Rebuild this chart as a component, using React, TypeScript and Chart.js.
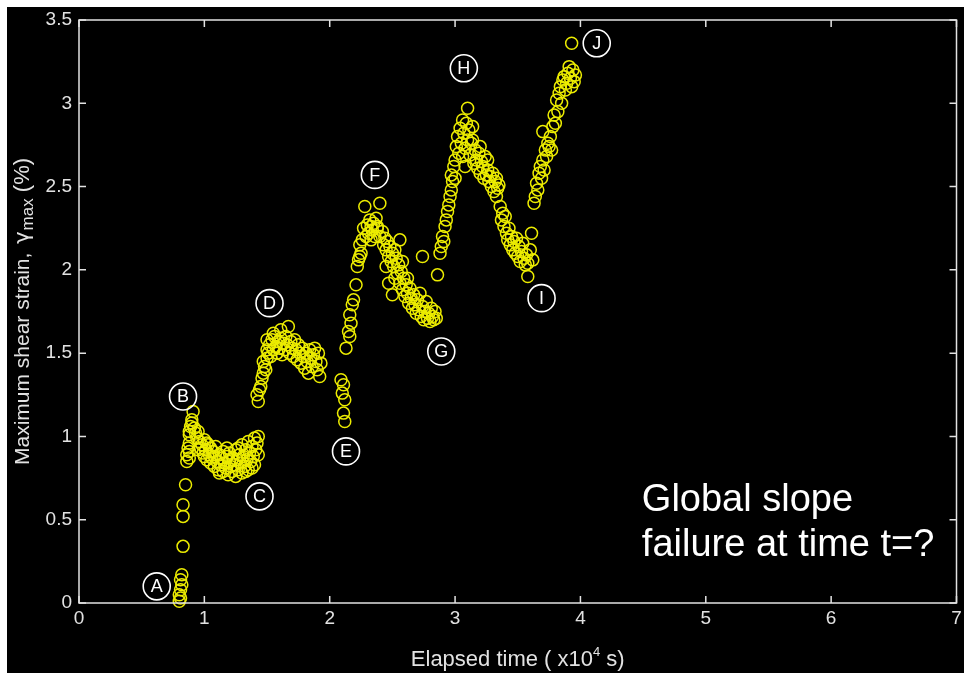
import React, { useEffect, useRef } from "react";
import { Chart, registerables } from "chart.js";
Chart.register(...registerables);

// ---------- data ----------
const xTicks = [0, 1, 2, 3, 4, 5, 6, 7];
const yTicks = [0, 0.5, 1, 1.5, 2, 2.5, 3, 3.5];

// [elapsed time (x10^4 s), max shear strain (%)]
const riseAB: [number, number][] = [
  [0.80, 0.01], [0.81, 0.03], [0.80, 0.05], [0.81, 0.08], [0.82, 0.11], [0.81, 0.14],
  [0.82, 0.17], [0.83, 0.34], [0.83, 0.52], [0.83, 0.59], [0.85, 0.71], [0.86, 0.85],
  [0.86, 0.89], [0.87, 0.93], [0.88, 1.01], [0.88, 1.03], [0.89, 1.06], [0.90, 1.10],
  [0.91, 1.15], [0.88, 0.96],
];

const plateauBC: [number, number][] = [
  [0.90, 1.08], [0.92, 1.05], [0.93, 1.02], [0.94, 0.99], [0.95, 1.03], [0.96, 0.97],
  [0.97, 0.93], [0.98, 0.95], [0.99, 0.90], [1.00, 0.98], [1.00, 0.88], [1.01, 0.92],
  [1.02, 0.86], [1.03, 0.95], [1.04, 0.89], [1.05, 0.84], [1.05, 0.93], [1.06, 0.87],
  [1.07, 0.91], [1.08, 0.82], [1.08, 0.88], [1.09, 0.94], [1.10, 0.85], [1.11, 0.80],
  [1.12, 0.89], [1.13, 0.83], [1.14, 0.87], [1.15, 0.79], [1.15, 0.91], [1.16, 0.84],
  [1.17, 0.81], [1.18, 0.88], [1.19, 0.77], [1.20, 0.85], [1.20, 0.90], [1.21, 0.82],
  [1.22, 0.79], [1.23, 0.87], [1.24, 0.83], [1.25, 0.76], [1.25, 0.92], [1.26, 0.86],
  [1.27, 0.80], [1.28, 0.89], [1.29, 0.84], [1.30, 0.95], [1.30, 0.78], [1.31, 0.88],
  [1.32, 0.82], [1.33, 0.92], [1.34, 0.86], [1.35, 0.97], [1.35, 0.80], [1.36, 0.90],
  [1.37, 0.85], [1.38, 0.94], [1.39, 0.88], [1.40, 0.99], [1.40, 0.83], [1.41, 0.92],
  [1.42, 0.96], [1.43, 1.00], [1.43, 0.89], [0.88, 0.87], [0.88, 0.91], [1.12, 0.78],
  [1.27, 0.93], [1.33, 0.79], [0.95, 0.92], [1.02, 0.96], [1.18, 0.93], [1.22, 0.86],
  [1.38, 0.81],
];

const peakD: [number, number][] = [
  [1.43, 1.21], [1.42, 1.25], [1.44, 1.28], [1.45, 1.30], [1.46, 1.35], [1.47, 1.38],
  [1.48, 1.42], [1.49, 1.40], [1.50, 1.47], [1.50, 1.52], [1.51, 1.50], [1.52, 1.55],
  [1.53, 1.48], [1.54, 1.58], [1.55, 1.52], [1.56, 1.60], [1.57, 1.54], [1.58, 1.50],
  [1.59, 1.57], [1.60, 1.53], [1.61, 1.59], [1.62, 1.49], [1.63, 1.56], [1.64, 1.52],
  [1.65, 1.60], [1.66, 1.55], [1.67, 1.66], [1.68, 1.50], [1.69, 1.57], [1.70, 1.53],
  [1.71, 1.48], [1.72, 1.58], [1.73, 1.52], [1.74, 1.46], [1.75, 1.55], [1.76, 1.50],
  [1.77, 1.44], [1.78, 1.53], [1.79, 1.48], [1.80, 1.41], [1.81, 1.50], [1.82, 1.45],
  [1.83, 1.38], [1.84, 1.52], [1.85, 1.47], [1.86, 1.42], [1.87, 1.49], [1.88, 1.53],
  [1.89, 1.45], [1.90, 1.40], [1.91, 1.50], [1.92, 1.36], [1.93, 1.44], [1.50, 1.58],
  [1.55, 1.62], [1.61, 1.64], [1.47, 1.45],
];

const riseEF: [number, number][] = [
  [2.09, 1.34], [2.11, 1.31], [2.10, 1.26], [2.12, 1.22], [2.11, 1.14], [2.12, 1.09],
  [2.13, 1.53], [2.15, 1.63], [2.16, 1.60], [2.17, 1.68], [2.16, 1.73], [2.18, 1.79],
  [2.19, 1.82], [2.21, 1.91], [2.22, 2.02], [2.23, 2.06], [2.24, 2.08], [2.25, 2.10],
  [2.24, 2.15], [2.26, 2.18], [2.27, 2.25], [2.28, 2.38], [2.30, 2.27], [2.31, 2.22],
  [2.32, 2.30], [2.33, 2.26], [2.34, 2.24], [2.35, 2.28], [2.36, 2.20], [2.37, 2.31],
  [2.38, 2.25], [2.40, 2.40], [2.29, 2.20], [2.33, 2.18],
];

const fallFG: [number, number][] = [
  [2.38, 2.26], [2.40, 2.20], [2.42, 2.23], [2.43, 2.15], [2.44, 2.19], [2.45, 2.12],
  [2.46, 2.17], [2.47, 2.08], [2.48, 2.14], [2.49, 2.05], [2.50, 1.85], [2.50, 2.10],
  [2.51, 2.02], [2.52, 1.95], [2.53, 2.07], [2.54, 1.98], [2.55, 2.03], [2.56, 2.18],
  [2.56, 1.92], [2.57, 1.99], [2.58, 1.88], [2.59, 1.95], [2.60, 1.84], [2.61, 1.91],
  [2.62, 1.86], [2.63, 1.80], [2.64, 1.89], [2.65, 1.83], [2.66, 1.77], [2.67, 1.85],
  [2.68, 1.79], [2.69, 1.74], [2.70, 1.82], [2.71, 1.76], [2.72, 1.86], [2.73, 1.72],
  [2.74, 2.08], [2.74, 1.78], [2.75, 1.70], [2.76, 1.75], [2.77, 1.81], [2.78, 1.71],
  [2.79, 1.74], [2.80, 1.69], [2.81, 1.77], [2.82, 1.72], [2.83, 1.70], [2.84, 1.75],
  [2.85, 1.71], [2.47, 1.92], [2.52, 2.12], [2.58, 2.05], [2.62, 1.95], [2.45, 2.02],
];

const riseGH: [number, number][] = [
  [2.86, 1.97], [2.88, 2.10], [2.89, 2.14], [2.90, 2.20], [2.91, 2.17], [2.92, 2.26],
  [2.93, 2.30], [2.94, 2.35], [2.95, 2.39], [2.96, 2.44], [2.97, 2.48], [2.97, 2.57],
  [2.98, 2.53], [2.99, 2.62], [3.00, 2.55],
];

const fallHI: [number, number][] = [
  [3.00, 2.66], [3.01, 2.74], [3.02, 2.80], [3.03, 2.70], [3.04, 2.85], [3.05, 2.76],
  [3.06, 2.90], [3.06, 2.68], [3.07, 2.82], [3.08, 2.73], [3.09, 2.88], [3.10, 2.97],
  [3.10, 2.78], [3.11, 2.84], [3.12, 2.69], [3.13, 2.76], [3.14, 2.86], [3.15, 2.64],
  [3.16, 2.72], [3.17, 2.66], [3.18, 2.61], [3.19, 2.70], [3.20, 2.58], [3.21, 2.65],
  [3.22, 2.62], [3.23, 2.55], [3.24, 2.68], [3.25, 2.57], [3.26, 2.60], [3.27, 2.53],
  [3.28, 2.56], [3.29, 2.50], [3.30, 2.58], [3.31, 2.47], [3.32, 2.53], [3.33, 2.44],
  [3.34, 2.49], [3.35, 2.51], [3.36, 2.38], [3.37, 2.30], [3.38, 2.34], [3.39, 2.26],
  [3.40, 2.32], [3.41, 2.22], [3.42, 2.18], [3.43, 2.25], [3.44, 2.15], [3.45, 2.20],
  [3.46, 2.12], [3.47, 2.17], [3.48, 2.10], [3.49, 2.19], [3.50, 2.08], [3.51, 2.14],
  [3.52, 2.05], [3.53, 2.11], [3.54, 2.16], [3.55, 2.07], [3.56, 2.03], [3.57, 2.09],
  [3.58, 2.04], [3.58, 1.96], [3.60, 2.12], [3.61, 2.22], [3.62, 2.06], [3.08, 2.62],
  [3.14, 2.78], [3.20, 2.74], [3.26, 2.66], [3.33, 2.55],
];

const riseIJ: [number, number][] = [
  [3.63, 2.40], [3.64, 2.44], [3.65, 2.52], [3.66, 2.48], [3.67, 2.58], [3.68, 2.62],
  [3.69, 2.55], [3.70, 2.66], [3.70, 2.83], [3.71, 2.60], [3.72, 2.72], [3.73, 2.68],
  [3.74, 2.76], [3.75, 2.74], [3.76, 2.80], [3.77, 2.72], [3.78, 2.86], [3.79, 2.93],
  [3.80, 2.88], [3.81, 3.02], [3.82, 2.95], [3.83, 3.06], [3.84, 3.10], [3.85, 3.00],
  [3.86, 3.14], [3.87, 3.16], [3.88, 3.08], [3.89, 3.12], [3.90, 3.18], [3.91, 3.22],
  [3.92, 3.15], [3.93, 3.10], [3.94, 3.20], [3.95, 3.13], [3.96, 3.17], [3.93, 3.36],
];

const markLetters = ["A", "B", "C", "D", "E", "F", "G", "H", "I", "J"];
const markX = [0.62, 0.83, 1.44, 1.52, 2.13, 2.36, 2.89, 3.07, 3.69, 4.13];
const markY = [0.10, 1.24, 0.64, 1.80, 0.91, 2.57, 1.51, 3.21, 1.83, 3.36];

const noteLines = ["Global slope", "failure at time t=?"];
const noteX = 4.49;
const noteY = [0.55, 0.28];

const xTitleMain = "Elapsed time ( x10";
const xTitleSup = "4";
const xTitleEnd = " s)";
const yTitleMain = "Maximum shear strain, ";
const yTitleSym = "γ";
const yTitleSub = "max";
const yTitleEnd = " (%)";

// ---------- styling ----------
const FONT = "'Liberation Sans', Arial, Helvetica, sans-serif";
const FG = "#e2e2e2";
const YELLOW = "#ecec00";

const allPoints = [
  ...riseAB, ...plateauBC, ...peakD, ...riseEF, ...fallFG, ...riseGH, ...fallHI, ...riseIJ,
].map(([x, y]) => ({ x, y }));

const overlay = {
  id: "overlay",
  beforeDraw(chart: any) {
    const { ctx, width, height } = chart;
    ctx.save();
    ctx.fillStyle = "#000";
    ctx.fillRect(0, 0, width, height);
    ctx.restore();
  },
  afterDraw(chart: any) {
    const { ctx, chartArea: a } = chart;
    const xs = chart.scales.x;
    const ys = chart.scales.y;
    ctx.save();
    // frame
    ctx.strokeStyle = FG;
    ctx.lineWidth = 1.5;
    ctx.strokeRect(a.left, a.top, a.right - a.left, a.bottom - a.top);
    // inward ticks
    const tl = 7;
    ctx.beginPath();
    xTicks.forEach((v) => {
      const p = xs.getPixelForValue(v);
      ctx.moveTo(p, a.bottom);
      ctx.lineTo(p, a.bottom - tl);
      ctx.moveTo(p, a.top);
      ctx.lineTo(p, a.top + tl);
    });
    yTicks.forEach((v) => {
      const p = ys.getPixelForValue(v);
      ctx.moveTo(a.left, p);
      ctx.lineTo(a.left + tl, p);
      ctx.moveTo(a.right, p);
      ctx.lineTo(a.right - tl, p);
    });
    ctx.stroke();

    // letter marks
    ctx.lineWidth = 1.6;
    ctx.strokeStyle = "#ffffff";
    ctx.fillStyle = "#ffffff";
    ctx.font = `18px ${FONT}`;
    ctx.textAlign = "center";
    ctx.textBaseline = "middle";
    markLetters.forEach((t, i) => {
      const px = xs.getPixelForValue(markX[i]);
      const py = ys.getPixelForValue(markY[i]);
      ctx.beginPath();
      ctx.arc(px, py, 13.5, 0, Math.PI * 2);
      ctx.stroke();
      ctx.fillText(t, px, py + 1);
    });

    // note
    ctx.font = `38px ${FONT}`;
    ctx.textAlign = "left";
    ctx.textBaseline = "alphabetic";
    noteLines.forEach((t, i) => {
      ctx.fillText(t, xs.getPixelForValue(noteX), ys.getPixelForValue(noteY[i]));
    });

    // x title
    ctx.fillStyle = FG;
    const xBig = `22px ${FONT}`;
    const xSmall = `13px ${FONT}`;
    ctx.font = xBig;
    const w1 = ctx.measureText(xTitleMain).width;
    const w3 = ctx.measureText(xTitleEnd).width;
    ctx.font = xSmall;
    const w2 = ctx.measureText(xTitleSup).width;
    const totalX = w1 + w2 + w3;
    let cx = (a.left + a.right) / 2 - totalX / 2;
    const by = a.bottom + 63;
    ctx.font = xBig;
    ctx.fillText(xTitleMain, cx, by);
    cx += w1;
    ctx.font = xSmall;
    ctx.fillText(xTitleSup, cx, by - 10);
    cx += w2;
    ctx.font = xBig;
    ctx.fillText(xTitleEnd, cx, by);

    // y title (rotated)
    ctx.save();
    ctx.translate(a.left - 50, (a.top + a.bottom) / 2);
    ctx.rotate(-Math.PI / 2);
    const big = `21px ${FONT}`;
    const symF = `21px 'DejaVu Sans', ${FONT}`;
    const subF = `17px ${FONT}`;
    const endF = `22px ${FONT}`;
    ctx.font = big;
    const m1 = ctx.measureText(yTitleMain).width + 3;
    ctx.font = symF;
    const m2 = ctx.measureText(yTitleSym).width + 1;
    ctx.font = subF;
    const m3 = ctx.measureText(yTitleSub).width;
    ctx.font = endF;
    const m4 = ctx.measureText(yTitleEnd).width;
    let tx = -(m1 + m2 + m3 + m4) / 2;
    ctx.font = big;
    ctx.fillText(yTitleMain, tx, 0);
    tx += m1;
    ctx.font = symF;
    ctx.fillText(yTitleSym, tx, 0);
    tx += m2;
    ctx.font = subF;
    ctx.fillText(yTitleSub, tx, 4);
    tx += m3;
    ctx.font = endF;
    ctx.fillText(yTitleEnd, tx, 0);
    ctx.restore();

    ctx.restore();
  },
};

const tickLabel = (v: number | string) => String(Number(v));

export default function App() {
  const ref = useRef<HTMLCanvasElement | null>(null);
  useEffect(() => {
    if (!ref.current) return;
    const chart = new Chart(ref.current, {
      type: "scatter",
      data: {
        datasets: [
          {
            label: "Maximum shear strain",
            data: allPoints,
            pointStyle: "circle",
            pointRadius: 6,
            pointHoverRadius: 6,
            borderWidth: 1.5,
            borderColor: YELLOW,
            backgroundColor: "rgba(0,0,0,0)",
            clip: false as any,
          },
        ],
      },
      options: {
        responsive: false,
        animation: false,
        devicePixelRatio: 1,
        layout: { padding: { left: 0, top: 13, right: 2, bottom: 0 } },
        plugins: { legend: { display: false }, tooltip: { enabled: false } },
        scales: {
          x: {
            type: "linear",
            min: 0,
            max: 7,
            afterBuildTicks: (s: any) => {
              s.ticks = xTicks.map((v) => ({ value: v }));
            },
            ticks: {
              color: FG,
              font: { family: FONT, size: 19 },
              padding: 4,
              maxRotation: 0,
              autoSkip: false,
              callback: tickLabel,
            },
            grid: { display: false, drawTicks: false },
            border: { display: false },
            afterFit: (s: any) => {
              s.height = 70;
              s.paddingLeft = 0;
              s.paddingRight = 0;
            },
          },
          y: {
            type: "linear",
            min: 0,
            max: 3.5,
            afterBuildTicks: (s: any) => {
              s.ticks = yTicks.map((v) => ({ value: v }));
            },
            ticks: {
              color: FG,
              font: { family: FONT, size: 19 },
              padding: 7,
              autoSkip: false,
              callback: tickLabel,
            },
            grid: { display: false, drawTicks: false },
            border: { display: false },
            afterFit: (s: any) => {
              s.width = 72;
              s.paddingTop = 0;
              s.paddingBottom = 0;
            },
          },
        },
      },
      plugins: [overlay],
    });
    return () => chart.destroy();
  }, []);
  return (
    <div
      style={{
        position: "fixed",
        left: 7,
        top: 7,
        width: 957,
        height: 666,
        background: "#000",
        overflow: "hidden",
      }}
    >
      <canvas ref={ref} width={957} height={666} style={{ display: "block" }} />
    </div>
  );
}
